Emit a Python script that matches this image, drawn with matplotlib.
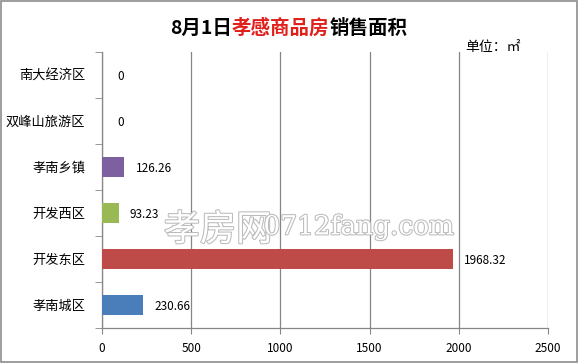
import matplotlib
matplotlib.use("Agg")
import matplotlib.pyplot as plt
import matplotlib.patheffects as pe
from matplotlib.patches import Rectangle

plt.rcParams['font.family'] = ['Noto Sans CJK SC', 'DejaVu Sans']

# 数据
districts = ['孝南城区', '开发东区', '开发西区', '孝南乡镇', '双峰山旅游区', '南大经济区']
areas = [230.66, 1968.32, 93.23, 126.26, 0, 0]
bar_colors = ['#4A7EBB', '#BE4B48', '#98B954', '#7D60A0', '#4A7EBB', '#4A7EBB']
x_ticks = [0, 500, 1000, 1500, 2000, 2500]

fig = plt.figure(figsize=(5.79, 3.63), dpi=100)
ax = fig.add_axes([0.176, 0.0964, 0.7705, 0.7606])

pos = list(range(len(districts)))
ax.barh(pos, areas, height=0.43, color=bar_colors, zorder=3)

for p, v in zip(pos, areas):
    lbl = '0' if v == 0 else f'{v:.2f}'
    ax.annotate(lbl, xy=(v, p), xytext=(8 if v else 11, -1), textcoords='offset points',
                va='center', ha='left', fontsize=8.5, color='#000000', zorder=5)

ax.set_xlim(0, 2500)
ax.set_ylim(-0.5, len(districts) - 0.5)
ax.set_xticks(x_ticks)
ax.set_xticklabels([str(t) for t in x_ticks], fontsize=8.5)
ax.set_yticks(pos)
ax.set_yticklabels(districts, fontsize=9.5)
ax.set_yticks([i - 0.5 for i in range(len(districts) + 1)], minor=True)
ax.tick_params(axis='y', which='major', length=0, pad=12)
ax.tick_params(axis='y', which='minor', length=5, color='#868686', direction='out')
ax.tick_params(axis='x', length=4, color='#868686', direction='out', pad=6)

ax.grid(axis='x', color='#868686', linewidth=0.9, zorder=0)
for s in ['top', 'right']:
    ax.spines[s].set_visible(False)
for s in ['left', 'bottom']:
    ax.spines[s].set_color('#868686')
    ax.spines[s].set_linewidth(0.9)

# 标题（分段着色）
t1 = fig.text(0.294, 0.895, '8月1日', fontsize=14, fontweight='bold', va='bottom', ha='left')
t2 = ax.annotate('孝感商品房', xy=(1, 0), xycoords=t1, va='bottom', ha='left',
                 fontsize=14, fontweight='bold', color='#E0201B', annotation_clip=False)
t3 = ax.annotate('销售面积', xy=(1, 0), xycoords=t2, va='bottom', ha='left',
                 fontsize=14, fontweight='bold', color='#000000', annotation_clip=False)

fig.text(0.803, 0.87, '单位：㎡', fontsize=10, va='center', ha='left')

# 水印
fig.text(0.283, 0.365, '孝房网', fontsize=26, color='white', va='center', ha='left',
         path_effects=[pe.withStroke(linewidth=1.5, foreground='#BBBBBB')], zorder=10)
fig.text(0.455, 0.375, '0712fang.com', fontsize=19, color='white', va='center', ha='left',
         family='DejaVu Serif',
         path_effects=[pe.withStroke(linewidth=1.5, foreground='#BBBBBB')], zorder=10)

fig.patches.append(Rectangle((0.002, 0.003), 0.995, 0.993, transform=fig.transFigure,
                             fill=False, edgecolor='#8C8C8C', linewidth=1.2))

fig.savefig('out.png', dpi=100)
